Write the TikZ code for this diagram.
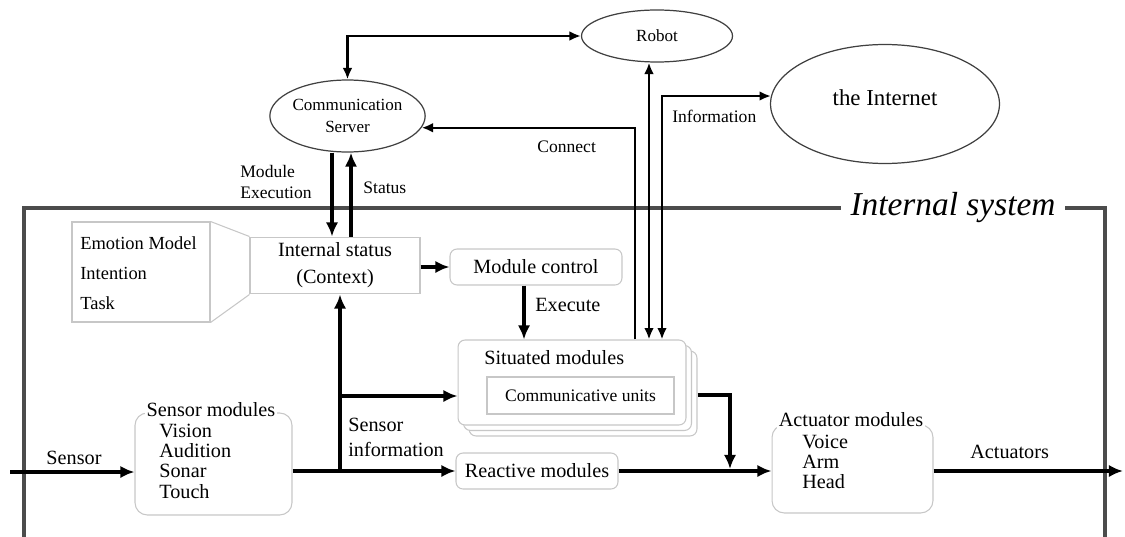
\documentclass[tikz,border=0pt]{standalone}
\usepackage{fontspec}
\setmainfont{Liberation Serif}
\usetikzlibrary{shapes.geometric,arrows.meta}
\begin{document}
\begin{tikzpicture}[x=0.02cm,y=-0.02cm]
\tikzset{boite/.style={draw=black!22, line width=0.6pt, rounded corners=4pt, fill=white, font=\fontsize{11.5}{12}\selectfont},
  carre/.style={draw=black!22, line width=0.6pt, fill=white},
  trait/.style={draw=black!22, line width=0.6pt},
  bulle/.style={draw=black!75, line width=0.7pt, ellipse, inner sep=0pt, align=center, font=\fontsize{9.7}{12.5}\selectfont},
  fleche/.style={-{Latex[length=8pt,width=7pt]}, line width=1.8pt},
  lien/.style={-{Latex[length=6.5pt,width=5.5pt]}, line width=1.3pt},
  dbl/.style={{Latex[length=6.5pt,width=5.5pt]}-{Latex[length=6.5pt,width=5.5pt]}, line width=1.3pt},
  txt/.style={font=\fontsize{11.5}{11.6}\selectfont, inner sep=0pt, align=left},
  petit/.style={font=\fontsize{10}{12}\selectfont, inner sep=0pt, align=left},
  cadre/.style={line width=2pt, draw=black!70}}
\useasboundingbox (0,0) rectangle (1125,537);
\node[anchor=mid, inner xsep=5.5pt, font=\fontsize{19}{22}\selectfont\itshape] (sys) at (953,211.5) {Internal system};
\coordinate (ftop) at (24,208);
\draw[cadre] (24,537) -- (ftop) -- (ftop -| sys.west);
\draw[cadre] (sys.east |- ftop) -- (1105,208) -- (1105,537);
\node[bulle, minimum width=3.02cm, minimum height=1.04cm] (robot) at (657,36) {Robot};
\node[bulle, minimum width=3.02cm, minimum height=1.44cm] (server) at (347.5,116) {Communication\\Server};
\node[bulle, minimum width=4.58cm, minimum height=2.38cm] (inet) at (885,104) {};
\node[font=\fontsize{13}{15}\selectfont, inner sep=0pt] (inettxt) at (885,98) {the Internet};
\node[carre, minimum width=2.76cm, minimum height=2cm] (emo) at (141,272) {};
\node[carre, minimum width=3.4cm, minimum height=1.1cm, align=center, font=\fontsize{11.5}{15.3}\selectfont] (status) at (335,265.5) {Internal status\\(Context)};
\draw[trait] (emo.north east) -- (status.north west);
\draw[trait] (emo.south east) -- (status.south west);
\node[anchor=west, align=left, inner sep=0pt, font=\fontsize{10.5}{17}\selectfont] (emotxt) at (80,273) {Emotion Model\\Intention\\Task};
\node[boite, minimum width=3.44cm, minimum height=0.72cm] (ctrl) at (536,267) {Module control};
\node[boite, minimum width=4.56cm, minimum height=1.7cm] (sit3) at (583,393.5) {};
\node[boite, minimum width=4.56cm, minimum height=1.7cm] (sit2) at (577.5,388) {};
\node[boite, minimum width=4.56cm, minimum height=1.7cm] (sit) at (572,382.5) {};
\node[txt, anchor=west] (sittitle) at (484,358) {Situated modules};
\node[carre, minimum width=3.74cm, minimum height=0.74cm, font=\fontsize{10}{12}\selectfont] (comm) at (580.5,395.5) {Communicative units};
\node[boite, rounded corners=7pt, minimum width=3.14cm, minimum height=2.04cm] (sensor) at (213.5,464) {};
\node[txt, anchor=west] (senstxt) at (159,461) {Vision\\Audition\\Sonar\\Touch};
\node[txt, fill=white, inner sep=1pt] (senstitle) at (211,410) {Sensor modules};
\node[boite, minimum width=3.24cm, minimum height=0.72cm] (react) at (537,471) {Reactive modules};
\node[boite, rounded corners=7pt, minimum width=3.22cm, minimum height=1.76cm] (act) at (852.5,469) {};
\node[txt, anchor=west] (acttxt) at (802,462) {Voice\\Arm\\Head};
\node[txt, fill=white, inner sep=1pt] (acttitle) at (851,420) {Actuator modules};
\node[txt] (lsensor) at (74,458) {Sensor};
\node[txt, anchor=west, font=\fontsize{11.5}{14.2}\selectfont] (lsinfo) at (348,437) {Sensor\\information};
\node[txt, anchor=west] (lexec) at (535,305) {Execute};
\node[txt, anchor=west] (lact) at (970,452) {Actuators};
\node[petit, anchor=west] (lmod) at (240,182) {Module\\Execution};
\node[petit, anchor=west] (lstat) at (363,188) {Status};
\node[petit, anchor=west] (lconn) at (537,147) {Connect};
\node[petit, anchor=west] (linfo) at (672,116) {Information};
\coordinate (sin) at (10,472);
\draw[fleche] (sin) -- (sin -| sensor.west);
\draw[fleche] (sensor.east |- react) -- (react.west);
\coordinate (j1) at (340,471);
\coordinate (j2) at (340,396);
\draw[fleche] (j1) -- (j1 |- status.south);
\draw[fleche] (j2) -- (j2 -| sit.west);
\draw[fleche] (react.east) -- (react.east -| act.west);
\coordinate (sout) at (730,395);
\coordinate (j3) at (730,469);
\draw[fleche] (sit3.east |- sout) -- (sout) -- (j3);
\coordinate (aout) at (1123,471);
\draw[fleche] (act.east |- aout) -- (aout);
\draw[fleche] (status.east |- ctrl) -- (ctrl.west);
\coordinate (ex) at ([xshift=-0.24cm]ctrl.south);
\draw[fleche] (ex) -- (ex |- sit.north);
\coordinate (me) at ([xshift=-0.31cm]server.south);
\draw[fleche] (me) -- (me |- status.north);
\coordinate (st) at ([xshift=0.32cm]status.north);
\draw[fleche] (st) -- (st |- server.south);
\draw[dbl] (server.north) |- (robot.west);
\coordinate (cn) at (635,128);
\draw[lien] (cn |- sit.north) |- (server.-9.6);
\coordinate (rb) at ([xshift=-0.16cm]robot.south);
\draw[dbl] (rb) -- (rb |- sit.north);
\coordinate (inf) at (662,97);
\draw[dbl] (inf |- sit.north) |- (inet.176.5);
\end{tikzpicture}
\end{document}
